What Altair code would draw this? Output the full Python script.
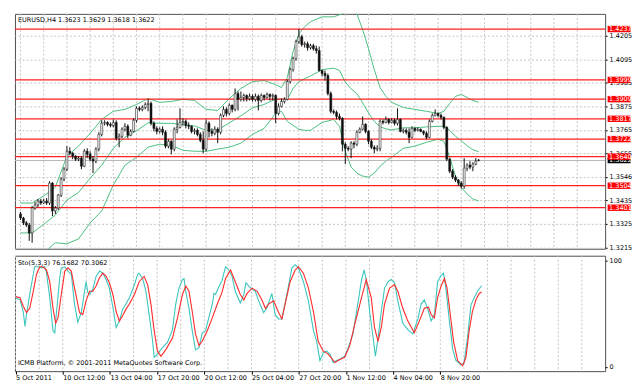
import altair as alt
import pandas as pd

chart_title = "EURUSD,H4 1.3623 1.3629 1.3618 1.3622"
sto_title = "Sto(5,3,3) 76.1682 70.3062"
copyright_text = "ICMB Platform, \u00a9 2001-2011 MetaQuotes Software Corp."

opens = [1.3372,1.3353,1.3330,1.3320,1.3283,1.3400,1.3414,1.3432,1.3423,1.3432,
 1.3423,1.3516,1.3386,1.3400,1.3460,1.3535,1.3581,1.3665,1.3656,1.3642,
 1.3628,1.3633,1.3595,1.3665,1.3651,1.3628,1.3619,1.3675,1.3744,1.3796,
 1.3800,1.3791,1.3786,1.3800,1.3726,1.3735,1.3768,1.3782,1.3740,1.3758,
 1.3810,1.3866,1.3861,1.3870,1.3884,1.3889,1.3796,1.3772,1.3758,1.3768,
 1.3754,1.3689,1.3712,1.3675,1.3768,1.3777,1.3800,1.3805,1.3786,1.3782,
 1.3758,1.3763,1.3744,1.3716,1.3675,1.3796,1.3758,1.3749,1.3768,1.3754,
 1.3833,1.3861,1.3842,1.3880,1.3861,1.3935,1.3908,1.3917,1.3926,1.3912,
 1.3922,1.3908,1.3922,1.3903,1.3926,1.3917,1.3931,1.3922,1.3926,1.3842,
 1.3875,1.3898,1.3908,1.3991,1.4047,1.4099,1.4178,1.4201,1.4164,1.4168,
 1.4150,1.4159,1.4145,1.4136,1.4043,1.4029,1.4019,1.3935,1.3852,1.3847,
 1.3828,1.3819,1.3698,1.3679,1.3675,1.3703,1.3698,1.3754,1.3768,1.3791,
 1.3758,1.3712,1.3684,1.3675,1.3679,1.3805,1.3800,1.3814,1.3800,1.3810,
 1.3796,1.3814,1.3758,1.3763,1.3754,1.3730,1.3772,1.3763,1.3768,1.3758,
 1.3749,1.3730,1.3805,1.3833,1.3842,1.3833,1.3824,1.3777,1.3628,1.3572,
 1.3544,1.3530,1.3516,1.3502,1.3586,1.3600,1.3591,1.3605,1.3623]

closes = [1.3353,1.3330,1.3320,1.3283,1.3400,1.3414,1.3432,1.3423,1.3432,1.3423,
 1.3516,1.3386,1.3400,1.3460,1.3535,1.3581,1.3665,1.3656,1.3642,1.3628,
 1.3633,1.3595,1.3665,1.3651,1.3628,1.3619,1.3675,1.3744,1.3796,1.3800,
 1.3791,1.3786,1.3800,1.3726,1.3735,1.3768,1.3782,1.3740,1.3758,1.3810,
 1.3866,1.3861,1.3870,1.3884,1.3889,1.3796,1.3772,1.3758,1.3768,1.3754,
 1.3689,1.3712,1.3675,1.3768,1.3777,1.3800,1.3805,1.3786,1.3782,1.3758,
 1.3763,1.3744,1.3716,1.3675,1.3796,1.3758,1.3749,1.3768,1.3754,1.3833,
 1.3861,1.3842,1.3880,1.3861,1.3935,1.3908,1.3917,1.3926,1.3912,1.3922,
 1.3908,1.3922,1.3903,1.3926,1.3917,1.3931,1.3922,1.3926,1.3842,1.3875,
 1.3898,1.3908,1.3991,1.4047,1.4099,1.4178,1.4201,1.4164,1.4168,1.4150,
 1.4159,1.4145,1.4136,1.4043,1.4029,1.4019,1.3935,1.3852,1.3847,1.3828,
 1.3819,1.3698,1.3679,1.3675,1.3703,1.3698,1.3754,1.3768,1.3791,1.3758,
 1.3712,1.3684,1.3675,1.3679,1.3805,1.3800,1.3814,1.3800,1.3810,1.3796,
 1.3814,1.3758,1.3763,1.3754,1.3730,1.3772,1.3763,1.3768,1.3758,1.3749,
 1.3730,1.3805,1.3833,1.3842,1.3833,1.3824,1.3777,1.3628,1.3572,1.3544,
 1.3530,1.3516,1.3502,1.3586,1.3600,1.3591,1.3605,1.3619,1.3622]

highs = [1.3381,1.3358,1.3339,1.3330,1.3409,1.3428,1.3442,1.3442,1.3442,1.3446,
 1.3525,1.3521,1.3409,1.3465,1.3544,1.3591,1.3689,1.3684,1.3661,1.3647,
 1.3642,1.3642,1.3675,1.3679,1.3665,1.3642,1.3684,1.3754,1.3810,1.3810,
 1.3805,1.3800,1.3814,1.3810,1.3749,1.3777,1.3796,1.3791,1.3768,1.3819,
 1.3875,1.3875,1.3880,1.3894,1.3909,1.3898,1.3805,1.3782,1.3777,1.3782,
 1.3763,1.3721,1.3716,1.3777,1.3814,1.3866,1.3819,1.3814,1.3800,1.3786,
 1.3772,1.3772,1.3754,1.3758,1.3814,1.3805,1.3772,1.3782,1.3777,1.3842,
 1.3875,1.3870,1.3889,1.3884,1.3959,1.3945,1.3945,1.3935,1.3931,1.3935,
 1.3931,1.3935,1.3931,1.3935,1.3931,1.3940,1.3935,1.3935,1.3931,1.3889,
 1.3912,1.3917,1.4001,1.4057,1.4108,1.4187,1.4237,1.4210,1.4178,1.4178,
 1.4168,1.4168,1.4159,1.4155,1.4047,1.4043,1.4029,1.3945,1.3861,1.3856,
 1.3842,1.3824,1.3707,1.3689,1.3712,1.3712,1.3763,1.3777,1.3828,1.3796,
 1.3763,1.3721,1.3693,1.3693,1.3814,1.3814,1.3828,1.3819,1.3819,1.3819,
 1.3866,1.3819,1.3772,1.3772,1.3772,1.3782,1.3777,1.3777,1.3772,1.3763,
 1.3758,1.3814,1.3842,1.3861,1.3847,1.3842,1.3828,1.3782,1.3633,1.3581,
 1.3553,1.3535,1.3525,1.3633,1.3609,1.3619,1.3614,1.3633,1.3629]

lows = [1.3344,1.3320,1.3311,1.3246,1.3237,1.3391,1.3404,1.3414,1.3418,1.3414,
 1.3414,1.3362,1.3372,1.3391,1.3451,1.3525,1.3572,1.3647,1.3628,1.3619,
 1.3619,1.3581,1.3591,1.3633,1.3619,1.3563,1.3609,1.3665,1.3735,1.3786,
 1.3782,1.3777,1.3777,1.3716,1.3684,1.3726,1.3758,1.3726,1.3735,1.3754,
 1.3800,1.3852,1.3852,1.3861,1.3852,1.3786,1.3758,1.3744,1.3749,1.3740,
 1.3679,1.3679,1.3651,1.3665,1.3749,1.3772,1.3786,1.3772,1.3768,1.3749,
 1.3744,1.3735,1.3707,1.3656,1.3665,1.3730,1.3735,1.3740,1.3703,1.3744,
 1.3824,1.3828,1.3833,1.3847,1.3852,1.3856,1.3898,1.3898,1.3898,1.3903,
 1.3898,1.3898,1.3856,1.3894,1.3903,1.3912,1.3903,1.3903,1.3796,1.3833,
 1.3870,1.3889,1.3903,1.3982,1.4038,1.4089,1.4168,1.4155,1.4150,1.4136,
 1.4141,1.4136,1.4122,1.4038,1.4015,1.3996,1.3926,1.3842,1.3838,1.3814,
 1.3810,1.3665,1.3605,1.3665,1.3633,1.3679,1.3689,1.3749,1.3763,1.3749,
 1.3698,1.3675,1.3656,1.3665,1.3665,1.3791,1.3796,1.3791,1.3796,1.3786,
 1.3786,1.3754,1.3749,1.3744,1.3703,1.3726,1.3754,1.3758,1.3754,1.3740,
 1.3721,1.3726,1.3800,1.3828,1.3824,1.3814,1.3768,1.3619,1.3563,1.3535,
 1.3521,1.3502,1.3490,1.3490,1.3572,1.3581,1.3572,1.3600,1.3618]

time_label_bars = [0, 16, 32, 48, 64, 80, 96, 112, 128, 144]
time_labels = ["5 Oct 2011", "10 Oct 12:00", "13 Oct 04:00", "17 Oct 20:00", "20 Oct 12:00",
               "25 Oct 04:00", "27 Oct 20:00", "1 Nov 12:00", "4 Nov 04:00", "8 Nov 20:00"]

price_ticks = [1.3215, 1.3325, 1.3435, 1.3546, 1.3655, 1.3765, 1.3875, 1.3985, 1.4095, 1.4205]
levels = [1.4237, 1.3999, 1.3909, 1.3817, 1.3722, 1.3640, 1.3504, 1.3401]
last_price = 1.3622

band_bars = [0,4,8,12,16,20,24,28,32,36,40,44,48,52,56,60,64,68,72,76,80,84,88,90,92,94,96,98,100,
             104,108,110,112,114,116,118,120,122,124,126,128,132,136,140,144,146,148,150,152,154,156,158]
bb_upper = [1.3423,1.3423,1.3456,1.3497,1.3642,1.3689,1.3749,1.3814,1.3852,1.3861,
 1.3884,1.3912,1.3894,1.3898,1.3908,1.3903,1.3861,1.3856,1.3912,1.3959,
 1.3991,1.3996,1.3977,1.3963,1.4010,1.4131,1.4215,1.4248,1.4271,1.4294,
 1.4294,1.4304,1.4313,1.4322,1.4308,1.4234,1.4145,1.4047,1.3963,1.3922,
 1.3894,1.3870,1.3861,1.3852,1.3842,1.3852,1.3889,1.3922,1.3931,1.3917,1.3903,1.3894]
bb_middle = [1.3283,1.3283,1.3323,1.3367,1.3437,1.3472,1.3539,1.3600,1.3679,1.3730,
 1.3761,1.3798,1.3796,1.3796,1.3789,1.3784,1.3763,1.3765,1.3798,1.3831,
 1.3868,1.3884,1.3910,1.3908,1.3908,1.3959,1.3991,1.4005,1.4017,1.4047,
 1.4054,1.4043,1.3989,1.3957,1.3935,1.3891,1.3845,1.3805,1.3779,1.3770,
 1.3765,1.3775,1.3775,1.3779,1.3782,1.3782,1.3763,1.3735,1.3714,1.3691,1.3672,1.3663]
bb_lower = [1.3129,1.3143,1.3190,1.3237,1.3232,1.3255,1.3330,1.3386,1.3507,1.3600,
 1.3637,1.3684,1.3698,1.3693,1.3670,1.3665,1.3665,1.3675,1.3684,1.3703,
 1.3744,1.3772,1.3842,1.3852,1.3805,1.3786,1.3768,1.3763,1.3763,1.3800,
 1.3814,1.3782,1.3665,1.3591,1.3563,1.3549,1.3544,1.3563,1.3595,1.3619,
 1.3637,1.3679,1.3689,1.3707,1.3721,1.3712,1.3637,1.3549,1.3497,1.3465,1.3442,1.3432]

k_bars = [0.0,1.5,2.6,3.2,3.7,4.8,6.0,6.5,7.7,8.8,9.9,10.5,11.6,12.7,13.3,13.8,15.0,15.5,16.7,17.8,
 18.9,20.0,21.1,22.3,23.4,23.9,24.5,25.1,26.2,27.3,28.5,29.6,30.7,31.8,33.0,34.1,35.2,36.3,37.4,38.6,
 40.3,41.4,41.9,43.1,44.2,45.3,46.4,47.0,48.1,49.8,51.5,53.2,54.3,55.4,56.6,57.1,57.7,58.8,59.9,61.0,
 62.2,63.3,64.4,65.6,66.7,67.3,67.8,68.9,70.0,71.2,72.3,73.4,74.5,76.2,77.4,78.1,79.0,80.2,81.3,82.4,
 84.1,85.2,86.9,88.0,89.2,90.3,92.0,93.7,94.8,95.9,97.6,99.3,101.0,102.1,103.2,104.3,105.4,106.6,107.7,108.8,
 109.9,111.6,112.7,114.4,116.2,117.3,118.2,119.0,120.1,121.3,122.0,122.9,124.0,125.1,126.3,127.4,128.5,129.6,131.3,133.0,
 134.7,136.4,137.5,138.6,139.8,140.9,142.0,143.1,144.3,145.1,145.9,147.1,148.2,149.3,151.0,152.1,153.2,154.4,155.5,156.6,
 158.0]
k_vals = [65,63,52,38,49,68,87,94,94,93,94,88,65,34,32,49,84,93,94,90,
 87,59,42,51,71,80,70,68,73,85,90,88,82,74,56,37,43,54,59,65,
 77,87,88,83,71,49,26,9,12,18,23,35,59,74,82,83,71,55,34,16,
 18,32,34,47,59,69,68,75,81,94,91,85,71,60,68,79,76,73,71,62,
 51,55,69,49,45,45,68,93,96,93,80,62,34,24,6,13,15,12,4,6,
 7,10,17,31,62,82,91,80,51,26,10,27,52,74,80,82,79,62,41,35,
 31,45,59,63,54,43,49,80,86,88,74,43,17,6,2,4,27,58,65,71,
 76.17]

d_bars = [0.0,1.5,2.6,3.7,4.8,6.0,7.1,8.2,9.3,10.5,11.6,12.7,13.6,14.4,15.5,16.7,17.8,18.9,20.0,21.7,
 22.8,23.9,25.1,26.2,27.3,28.5,29.6,30.7,31.8,33.0,34.1,35.2,36.3,37.4,38.6,40.3,41.9,43.6,44.8,45.9,
 47.0,48.1,49.3,50.9,53.2,54.9,56.6,57.7,58.8,59.9,61.0,62.2,63.3,65.0,66.7,68.4,70.0,71.2,72.9,74.5,
 76.2,77.4,78.5,80.2,81.9,83.5,84.7,85.8,87.5,89.2,90.3,91.4,93.1,94.8,95.9,97.6,99.3,101.0,102.6,104.3,
 106.0,108.3,109.9,111.6,113.3,115.0,117.3,118.9,120.6,121.7,122.9,124.0,125.1,126.8,128.5,129.6,131.3,133.0,135.2,136.9,
 138.6,140.0,140.9,142.0,143.1,144.3,145.4,146.3,147.4,148.5,149.9,151.6,152.7,153.8,154.9,156.1,157.2,158.0]
d_vals = [66,65,57,51,55,71,87,94,94,91,80,55,41,46,68,90,93,90,74,51,
 49,62,71,71,76,84,88,85,79,68,52,43,48,54,59,68,80,85,77,59,
 34,15,10,16,27,46,68,76,71,52,31,20,24,34,46,59,70,83,91,80,
 68,63,69,74,71,63,55,59,62,51,45,59,80,91,94,88,74,52,24,15,
 12,4,7,9,20,40,65,82,65,37,24,37,59,74,77,71,55,43,32,43,
 55,56,49,46,65,76,83,74,49,24,6,1,9,34,52,63,69,70.31]

# ---------------------------------------------------------------- frames
FONT = "DejaVu Sans"
FS = 6.5
W = 593
H_MAIN = 236
H_IND = 116
X_DOM = [-0.2, 199.9]
Y_DOM = [1.3209, 1.4308]
S_DOM = [-4.0, 104.4]
GRID = "#c4c4c4"

candles = pd.DataFrame({"bar": list(range(len(closes))), "open": opens, "high": highs,
                        "low": lows, "close": closes})
bands = pd.concat([
    pd.DataFrame({"bar": band_bars, "value": bb_upper, "band": "upper"}),
    pd.DataFrame({"bar": band_bars, "value": bb_middle, "band": "middle"}),
    pd.DataFrame({"bar": band_bars, "value": bb_lower, "band": "lower"}),
])
lv = pd.DataFrame({"level": levels})
lv["label"] = [f"{v:.4f}" for v in levels]
lv["lo"] = lv["level"] - 0.0015
lv["hi"] = lv["level"] + 0.0015
lp = pd.DataFrame({"level": [last_price], "label": [f"{last_price:.4f}"]})
lp["lo"] = lp["level"] - 0.0013
lp["hi"] = lp["level"] + 0.0013
grid_df = pd.DataFrame({"bar": list(range(0, 200, 8))})
k_df = pd.DataFrame({"bar": k_bars, "v": k_vals})
d_df = pd.DataFrame({"bar": d_bars, "v": d_vals})

xs = alt.Scale(domain=X_DOM, nice=False, zero=False)
ys = alt.Scale(domain=Y_DOM, nice=False, zero=False)
ss = alt.Scale(domain=S_DOM, nice=False, zero=False)

y_axis = alt.Axis(orient="right", values=price_ticks, format=".4f", grid=True, gridDash=[2, 2],
                  gridColor=GRID, tickSize=2, labelPadding=2, domain=False, title=None,
                  labelFontSize=FS, labelFont=FONT, labelColor="black", tickColor="black")
s_axis = alt.Axis(orient="right", values=[0, 100], format="d", grid=False, tickSize=2,
                  labelPadding=2, domain=False, title=None, labelFontSize=FS, labelFont=FONT,
                  labelColor="black", tickColor="black")
label_expr = "[" + ",".join("'" + t + "'" for t in time_labels) + "][round(datum.value/16)]"
x_axis = alt.Axis(values=time_label_bars, labelExpr=label_expr, labelAlign="left",
                  labelBaseline="top", tickSize=3, labelPadding=0, grid=False, domain=False,
                  title=None, labelFontSize=FS, labelFont=FONT, labelColor="black",
                  tickColor="black", labelFlush=False, labelOverlap=False, labelBound=False)

def Yp(field):
    return alt.Y(field, type="quantitative", scale=ys, axis=y_axis)

vgrid_main = alt.Chart(grid_df).mark_rule(color=GRID, strokeDash=[2, 2], strokeWidth=1).encode(
    x=alt.X("bar:Q", scale=xs, axis=None))

band_lines = alt.Chart(bands).mark_line(color="#4cbf7f", strokeWidth=1, clip=True).encode(
    x=alt.X("bar:Q", scale=xs, axis=None), y=Yp("value"), detail="band:N")

level_rules = alt.Chart(lv).mark_rule(color="#ff2020", strokeWidth=1.3).encode(y=Yp("level"))
last_rule = alt.Chart(lp).mark_rule(color="#b8b8b8", strokeWidth=1).encode(y=Yp("level"))

wicks = alt.Chart(candles).mark_rule(color="#101010", strokeWidth=1).encode(
    x=alt.X("bar:Q", scale=xs, axis=None), y=Yp("low"), y2="high:Q")
bodies = alt.Chart(candles).mark_bar(size=2, stroke="#101010", strokeWidth=0.5).encode(
    x=alt.X("bar:Q", scale=xs, axis=None), y=Yp("open"), y2="close:Q",
    color=alt.condition("datum.close > datum.open", alt.value("#f0f0f0"), alt.value("#101010")))

last_box = alt.Chart(lp).mark_rect(color="black").encode(
    x=alt.value(595.5), x2=alt.value(618.5), y=Yp("lo"), y2="hi:Q")
last_txt = alt.Chart(lp).mark_text(align="left", baseline="middle", color="white",
                                   fontSize=FS, font=FONT).encode(
    x=alt.value(597), y=Yp("level"), text="label:N")
lvl_box = alt.Chart(lv).mark_rect(color="#ff0000").encode(
    x=alt.value(595.5), x2=alt.value(618.5), y=Yp("lo"), y2="hi:Q")
lvl_txt = alt.Chart(lv).mark_text(align="left", baseline="middle", color="white",
                                  fontSize=FS, font=FONT).encode(
    x=alt.value(597), y=Yp("level"), text="label:N")

title_txt = alt.Chart(pd.DataFrame({"t": [chart_title]})).mark_text(
    align="left", baseline="middle", fontSize=FS, font=FONT, color="black").encode(
    x=alt.value(3), y=alt.value(6), text="t:N")

main = alt.layer(vgrid_main, band_lines, level_rules, last_rule, wicks, bodies,
                 last_box, last_txt, lvl_box, lvl_txt, title_txt).properties(width=W, height=H_MAIN)

vgrid_ind = alt.Chart(grid_df).mark_rule(color=GRID, strokeDash=[2, 2], strokeWidth=1).encode(
    x=alt.X("bar:Q", scale=xs, axis=x_axis))
k_line = alt.Chart(k_df).mark_line(color="#3cc6bd", strokeWidth=1.1).encode(
    x=alt.X("bar:Q", scale=xs, axis=x_axis), y=alt.Y("v:Q", scale=ss, axis=s_axis))
d_line = alt.Chart(d_df).mark_line(color="#ff2a2a", strokeWidth=1.1).encode(
    x=alt.X("bar:Q", scale=xs, axis=x_axis), y=alt.Y("v:Q", scale=ss, axis=s_axis))
sto_txt = alt.Chart(pd.DataFrame({"t": [sto_title]})).mark_text(
    align="left", baseline="middle", fontSize=FS, font=FONT, color="black").encode(
    x=alt.value(3), y=alt.value(7), text="t:N")
copy_txt = alt.Chart(pd.DataFrame({"t": [copyright_text]})).mark_text(
    align="left", baseline="middle", fontSize=FS, font=FONT, color="black").encode(
    x=alt.value(3), y=alt.value(108), text="t:N")

ind = alt.layer(vgrid_ind, k_line, d_line, sto_txt, copy_txt).properties(width=W, height=H_IND)

chart = alt.vconcat(main, ind, spacing=3).configure(
    padding={"left": 4, "top": 4, "right": 2, "bottom": 0}, background="white"
).configure_view(stroke="#505050", strokeWidth=1)

chart.save("out.html", embed_options={"renderer": "svg", "actions": False})
